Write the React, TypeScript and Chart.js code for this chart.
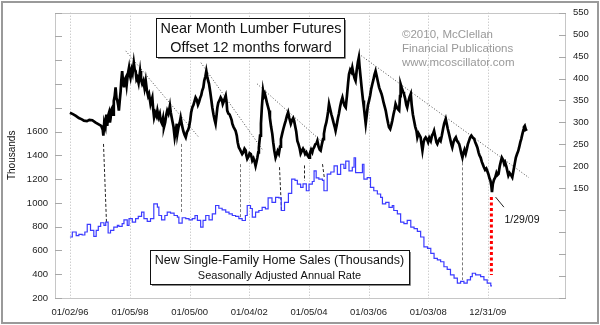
import React, { useEffect, useRef } from 'react';
import { Chart, registerables } from 'chart.js';

Chart.register(...registerables);

const FONT = "'Liberation Sans', Arial, Helvetica, sans-serif";

// X axis (decimal years) tick dates and labels
const xTickDates = [1996.003, 1998.011, 2000.011, 2002.008, 2004.011, 2006.005, 2008.005, 2009.997];
const xTickLabels = ['01/02/96', '01/05/98', '01/05/00', '01/04/02', '01/05/04', '01/03/06', '01/03/08', '12/31/09'];
const xMin = 1995.5;
const xMax = 2012.62;

// Left axis: New home sales (thousands)
const salesMin = 200;
const salesMax = 2600;
const salesStep = 200;
const salesMaxLabel = 1600;

// Right axis: Lumber price
const lumberMin = -100;
const lumberMax = 550;
const lumberStep = 50;
const lumberMinLabel = 150;

// New single-family home sales (monthly step), [decimal year, thousands]
const salesPoints: [number, number][] = [
  [1996.00,713],[1996.08,755],[1996.21,725],[1996.30,735],[1996.41,730],[1996.50,755],[1996.58,819],[1996.69,769],
  [1996.80,719],[1996.88,769],[1996.95,802],[1997.03,833],[1997.14,811],[1997.20,839],[1997.28,747],[1997.36,769],
  [1997.47,797],[1997.59,811],[1997.64,802],[1997.75,825],[1997.81,858],[1997.92,811],[1997.98,867],[1998.09,839],
  [1998.20,867],[1998.29,886],[1998.40,922],[1998.48,867],[1998.59,844],[1998.70,867],[1998.81,992],[1998.93,964],
  [1998.98,894],[1999.07,858],[1999.18,894],[1999.26,922],[1999.37,914],[1999.49,894],[1999.60,880],[1999.65,830],
  [1999.76,875],[1999.88,867],[1999.99,858],[2000.10,867],[2000.19,894],[2000.27,853],[2000.38,797],[2000.46,853],
  [2000.55,894],[2000.66,858],[2000.77,908],[2000.88,978],[2000.99,955],[2001.10,942],[2001.22,922],[2001.33,908],
  [2001.44,894],[2001.55,886],[2001.66,867],[2001.77,852],[2001.88,894],[2001.94,978],[2002.05,953],[2002.11,880],
  [2002.22,922],[2002.33,936],[2002.44,963],[2002.55,950],[2002.64,1042],[2002.77,1005],[2002.89,1047],[2003.00,1042],
  [2003.08,936],[2003.19,1005],[2003.32,1080],[2003.43,1200],[2003.54,1190],[2003.62,1158],[2003.73,1130],[2003.81,1160],
  [2003.92,1102],[2004.01,1158],[2004.12,1180],[2004.18,1269],[2004.25,1210],[2004.34,1200],[2004.46,1190],[2004.51,1102],
  [2004.62,1242],[2004.74,1260],[2004.85,1311],[2004.96,1240],[2005.07,1325],[2005.18,1290],[2005.24,1352],[2005.35,1269],
  [2005.46,1300],[2005.52,1380],[2005.57,1255],[2005.68,1255],[2005.80,1325],[2005.85,1200],[2005.96,1213],[2006.07,1130],
  [2006.18,1102],[2006.30,1075],[2006.41,1047],[2006.47,992],[2006.58,1005],[2006.69,963],[2006.80,978],[2006.85,936],
  [2006.97,908],[2007.08,838],[2007.19,825],[2007.30,853],[2007.42,797],[2007.53,783],[2007.64,760],[2007.75,713],
  [2007.86,630],[2007.98,618],[2008.09,575],[2008.20,533],[2008.31,520],[2008.42,505],[2008.53,463],[2008.64,440],
  [2008.75,394],[2008.87,367],[2008.98,325],[2009.09,340],[2009.20,325],[2009.31,352],[2009.42,380],[2009.48,408],
  [2009.59,394],[2009.76,380],[2009.87,352],[2009.98,325],[2010.10,302],[2010.14,302]
];

// Near month lumber futures, offset 12 months forward, [decimal year, price]
const lumberPoints: [number, number][] = [
  [1996.00,322],[1996.10,319],[1996.20,315],[1996.30,310],[1996.40,307],[1996.47,304],[1996.57,303],[1996.65,306],
  [1996.75,305],[1996.85,300],[1996.95,296],[1997.05,292],[1997.10,283],[1997.12,270],[1997.15,300],[1997.19,290],
  [1997.22,318],[1997.25,292],[1997.28,315],[1997.31,322],[1997.34,300],[1997.36,308],[1997.39,330],[1997.42,334],
  [1997.45,318],[1997.47,349],[1997.50,360],[1997.53,380],[1997.56,355],[1997.59,349],[1997.62,338],[1997.64,327],
  [1997.67,350],[1997.70,372],[1997.72,395],[1997.75,417],[1997.78,392],[1997.81,380],[1997.84,398],[1997.87,402],
  [1997.90,385],[1997.94,410],[1997.98,425],[1998.01,408],[1998.03,402],[1998.07,420],[1998.10,412],[1998.14,436],
  [1998.17,420],[1998.20,417],[1998.23,398],[1998.26,402],[1998.30,390],[1998.35,417],[1998.38,398],[1998.42,388],
  [1998.46,395],[1998.50,378],[1998.54,395],[1998.58,372],[1998.62,360],[1998.65,365],[1998.70,342],[1998.73,350],
  [1998.76,357],[1998.79,330],[1998.82,311],[1998.86,322],[1998.90,315],[1998.93,327],[1998.97,312],[1999.01,320],
  [1999.04,304],[1999.08,298],[1999.12,310],[1999.15,289],[1999.19,300],[1999.23,318],[1999.26,327],[1999.30,320],
  [1999.35,338],[1999.38,322],[1999.43,304],[1999.47,290],[1999.51,266],[1999.55,282],[1999.58,297],[1999.60,274],
  [1999.64,290],[1999.68,300],[1999.71,311],[1999.75,295],[1999.80,280],[1999.84,272],[1999.88,266],[1999.92,278],
  [1999.96,283],[1999.99,289],[2000.03,305],[2000.06,322],[2000.10,334],[2000.14,340],[2000.18,350],[2000.21,357],
  [2000.25,352],[2000.29,340],[2000.32,345],[2000.36,355],[2000.40,362],[2000.43,372],[2000.47,380],[2000.50,395],
  [2000.54,405],[2000.57,417],[2000.60,405],[2000.63,395],[2000.66,388],[2000.70,370],[2000.74,350],[2000.77,334],
  [2000.81,318],[2000.85,305],[2000.88,297],[2000.91,315],[2000.94,334],[2000.97,345],[2001.01,350],[2001.05,357],
  [2001.09,352],[2001.12,342],[2001.16,349],[2001.19,355],[2001.22,361],[2001.25,345],[2001.27,327],[2001.31,320],
  [2001.35,318],[2001.39,311],[2001.42,305],[2001.44,297],[2001.48,290],[2001.52,285],[2001.55,281],[2001.59,270],
  [2001.62,255],[2001.66,243],[2001.70,238],[2001.74,232],[2001.77,228],[2001.81,232],[2001.85,240],[2001.89,236],
  [2001.91,225],[2001.94,217],[2001.98,222],[2002.02,230],[2002.06,228],[2002.09,220],[2002.11,213],[2002.15,218],
  [2002.19,210],[2002.22,201],[2002.25,210],[2002.28,220],[2002.31,232],[2002.33,243],[2002.37,270],[2002.40,297],
  [2002.43,334],[2002.47,372],[2002.50,360],[2002.53,365],[2002.56,357],[2002.59,348],[2002.61,342],[2002.64,335],
  [2002.67,327],[2002.70,310],[2002.74,290],[2002.78,274],[2002.81,255],[2002.85,235],[2002.89,220],[2002.92,226],
  [2002.96,235],[2003.00,229],[2003.04,245],[2003.07,262],[2003.11,274],[2003.15,285],[2003.19,295],[2003.23,304],
  [2003.27,315],[2003.31,323],[2003.35,310],[2003.40,297],[2003.44,305],[2003.48,310],[2003.51,304],[2003.55,290],
  [2003.58,280],[2003.62,258],[2003.66,250],[2003.70,240],[2003.73,229],[2003.77,235],[2003.81,240],[2003.84,236],
  [2003.88,228],[2003.92,232],[2003.96,225],[2004.01,220],[2004.04,230],[2004.08,238],[2004.12,232],[2004.15,240],
  [2004.18,243],[2004.22,250],[2004.26,252],[2004.29,258],[2004.33,245],[2004.37,238],[2004.40,236],[2004.44,250],
  [2004.48,262],[2004.51,274],[2004.55,290],[2004.59,300],[2004.62,311],[2004.65,325],[2004.68,342],[2004.72,330],
  [2004.76,318],[2004.79,311],[2004.83,300],[2004.87,290],[2004.90,281],[2004.94,295],[2004.98,310],[2005.01,319],
  [2005.05,335],[2005.09,348],[2005.13,357],[2005.17,345],[2005.20,338],[2005.24,334],[2005.28,360],[2005.32,390],
  [2005.35,410],[2005.39,420],[2005.43,415],[2005.46,425],[2005.50,410],[2005.54,400],[2005.57,395],[2005.61,420],
  [2005.65,438],[2005.68,448],[2005.70,430],[2005.74,402],[2005.78,375],[2005.82,350],[2005.85,334],[2005.88,315],
  [2005.91,297],[2005.95,320],[2005.98,338],[2006.02,349],[2006.06,362],[2006.09,375],[2006.13,387],[2006.17,398],
  [2006.20,408],[2006.24,417],[2006.28,405],[2006.32,392],[2006.36,380],[2006.40,372],[2006.44,365],[2006.47,357],
  [2006.51,345],[2006.55,335],[2006.58,327],[2006.62,312],[2006.66,298],[2006.69,289],[2006.73,285],[2006.77,295],
  [2006.80,304],[2006.84,318],[2006.88,330],[2006.91,342],[2006.95,335],[2006.99,330],[2007.03,327],[2007.06,360],
  [2007.08,387],[2007.12,378],[2007.16,370],[2007.19,365],[2007.23,355],[2007.27,340],[2007.30,334],[2007.34,348],
  [2007.38,358],[2007.42,365],[2007.45,340],[2007.49,318],[2007.53,304],[2007.57,290],[2007.61,281],[2007.64,266],
  [2007.68,275],[2007.72,270],[2007.75,266],[2007.78,250],[2007.81,236],[2007.85,255],[2007.88,262],[2007.92,266],
  [2007.96,262],[2008.00,255],[2008.04,265],[2008.09,258],[2008.13,270],[2008.17,275],[2008.20,281],[2008.24,268],
  [2008.28,255],[2008.31,251],[2008.35,258],[2008.38,262],[2008.42,258],[2008.46,270],[2008.50,285],[2008.54,298],
  [2008.59,308],[2008.62,298],[2008.66,285],[2008.70,274],[2008.74,262],[2008.78,250],[2008.81,243],[2008.85,255],
  [2008.89,262],[2008.93,266],[2008.97,258],[2009.00,255],[2009.04,251],[2009.08,240],[2009.11,230],[2009.15,220],
  [2009.19,232],[2009.22,238],[2009.26,229],[2009.30,240],[2009.33,250],[2009.37,258],[2009.41,266],[2009.45,270],
  [2009.50,265],[2009.54,263],[2009.58,255],[2009.61,250],[2009.65,243],[2009.69,232],[2009.72,225],[2009.76,220],
  [2009.80,210],[2009.83,205],[2009.87,198],[2009.91,192],[2009.95,195],[2009.98,190],[2010.02,182],[2010.06,172],
  [2010.09,167],[2010.12,155],[2010.14,141],[2010.17,160],[2010.21,170],[2010.25,175],[2010.29,185],[2010.32,180],
  [2010.36,183],[2010.40,200],[2010.44,212],[2010.47,220],[2010.51,215],[2010.55,205],[2010.58,209],[2010.62,200],
  [2010.66,188],[2010.69,179],[2010.73,185],[2010.78,180],[2010.82,175],[2010.86,190],[2010.90,205],[2010.94,220],
  [2010.98,228],[2011.02,235],[2011.05,243],[2011.09,255],[2011.12,262],[2011.16,274],[2011.19,282],[2011.21,289],
  [2011.24,292],[2011.27,285],[2011.30,281]
];

// Dotted down-sloping trend lines on lumber: [year1, price1, year2, price2]
const trendLines: [number, number, number, number][] = [
  [1997.87, 463, 2000.32, 266],
  [2000.39, 436, 2002.47, 236],
  [2002.27, 388, 2004.41, 258],
  [2005.68, 456, 2011.38, 174],
];

// Dashed connectors lumber low -> sales low: [yearL, lumber, yearS, sales, color]
const connectors: [number, number, number, number, string][] = [
  [1997.12, 251, 1997.20, 830, '#222222'],
  [1999.71, 251, 1999.71, 908, '#7a7a7a'],
  [2001.70, 205, 2001.70, 880, '#7a7a7a'],
  [2003.00, 198, 2003.08, 936, '#222222'],
  [2003.84, 202, 2003.84, 1186, '#222222'],
  [2004.46, 205, 2004.51, 1200, '#222222'],
  [2009.13, 209, 2009.13, 352, '#7a7a7a'],
];
const redConnector: [number, number, number, number] = [2010.12, 130, 2010.12, 394];
const lowLeader: [number, number, number, number] = [2010.26, 130, 2010.54, 107];
const lowLabel = '1/29/09';
const lowLabelPos: [number, number] = [2010.56, 77];

const titleLines = ['Near Month Lumber Futures', 'Offset 12 months forward'];
const salesLines = ['New Single-Family Home Sales (Thousands)', 'Seasonally Adjusted Annual Rate'];
const creditLines = ['\u00a92010, McClellan', 'Financial Publications', 'www.mcoscillator.com'];

const decoPlugin = {
  id: 'deco',
  beforeDatasetsDraw(chart: any) {
    const { ctx, chartArea: a, scales } = chart;
    const x = scales.x, yL = scales.yL, yR = scales.yR;
    ctx.save();
    // vertical dotted gridlines
    ctx.strokeStyle = '#b8b8b8';
    ctx.lineWidth = 1;
    ctx.setLineDash([1, 2]);
    xTickDates.forEach((d) => {
      const px = Math.round(x.getPixelForValue(d)) + 0.5;
      ctx.beginPath();
      ctx.moveTo(px, a.top);
      ctx.lineTo(px, a.bottom);
      ctx.stroke();
    });
    ctx.setLineDash([]);
    // plot frame
    ctx.strokeStyle = '#c6c6c6';
    ctx.strokeRect(Math.round(a.left) + 0.5, Math.round(a.top) + 0.5, Math.round(a.right - a.left) - 1, Math.round(a.bottom - a.top));
    // inward tick marks
    ctx.strokeStyle = '#a8a8a8';
    yL.ticks.forEach((t: any) => {
      const py = Math.round(yL.getPixelForValue(t.value)) + 0.5;
      ctx.beginPath();
      ctx.moveTo(a.left, py);
      ctx.lineTo(a.left + 7, py);
      ctx.stroke();
    });
    yR.ticks.forEach((t: any) => {
      const py = Math.round(yR.getPixelForValue(t.value)) + 0.5;
      ctx.beginPath();
      ctx.moveTo(a.right - 7, py);
      ctx.lineTo(a.right, py);
      ctx.stroke();
    });
    // trend lines
    ctx.strokeStyle = '#4a4a4a';
    ctx.setLineDash([1, 2]);
    trendLines.forEach(([x1, v1, x2, v2]) => {
      ctx.beginPath();
      ctx.moveTo(x.getPixelForValue(x1), yR.getPixelForValue(v1));
      ctx.lineTo(x.getPixelForValue(x2), yR.getPixelForValue(v2));
      ctx.stroke();
    });
    // connectors
    ctx.setLineDash([3, 2]);
    connectors.forEach(([x1, v1, x2, v2, c]) => {
      ctx.strokeStyle = c;
      ctx.beginPath();
      ctx.moveTo(Math.round(x.getPixelForValue(x1)) + 0.5, yR.getPixelForValue(v1));
      ctx.lineTo(Math.round(x.getPixelForValue(x2)) + 0.5, yL.getPixelForValue(v2));
      ctx.stroke();
    });
    // red dotted
    ctx.strokeStyle = '#ff0000';
    ctx.lineWidth = 3;
    ctx.setLineDash([3, 2.5]);
    ctx.beginPath();
    ctx.moveTo(x.getPixelForValue(redConnector[0]), yR.getPixelForValue(redConnector[1]));
    ctx.lineTo(x.getPixelForValue(redConnector[2]), yL.getPixelForValue(redConnector[3]));
    ctx.stroke();
    ctx.restore();
  },
  afterDatasetsDraw(chart: any) {
    const { ctx, scales } = chart;
    const x = scales.x, yR = scales.yR;
    ctx.save();
    // leader line + label
    ctx.strokeStyle = '#222';
    ctx.lineWidth = 1;
    ctx.beginPath();
    ctx.moveTo(x.getPixelForValue(lowLeader[0]), yR.getPixelForValue(lowLeader[1]));
    ctx.lineTo(x.getPixelForValue(lowLeader[2]), yR.getPixelForValue(lowLeader[3]));
    ctx.stroke();
    ctx.fillStyle = '#111';
    ctx.font = `10.5px ${FONT}`;
    ctx.textAlign = 'left';
    ctx.textBaseline = 'middle';
    ctx.fillText(lowLabel, x.getPixelForValue(lowLabelPos[0]), yR.getPixelForValue(lowLabelPos[1]));

    const box = (l: number, t: number, r: number, b: number) => {
      ctx.fillStyle = '#ffffff';
      ctx.fillRect(l, t, r - l, b - t);
      ctx.strokeStyle = '#8a8a8a';
      ctx.beginPath();
      ctx.moveTo(r + 1.5, t + 2);
      ctx.lineTo(r + 1.5, b + 1.5);
      ctx.lineTo(l + 2, b + 1.5);
      ctx.stroke();
      ctx.strokeStyle = '#111';
      ctx.strokeRect(l + 0.5, t + 0.5, r - l, b - t);
    };
    // title box
    box(156, 18, 344, 57);
    ctx.fillStyle = '#111';
    ctx.textAlign = 'center';
    ctx.textBaseline = 'alphabetic';
    ctx.font = `14.4px ${FONT}`;
    ctx.fillText(titleLines[0], 251, 33);
    ctx.fillText(titleLines[1], 251, 52);
    // sales box
    box(150, 250, 409, 284);
    ctx.fillStyle = '#111';
    ctx.font = `12.5px ${FONT}`;
    ctx.fillText(salesLines[0], 279.5, 264);
    ctx.font = `11px ${FONT}`;
    ctx.fillText(salesLines[1], 279.5, 278.5);
    // credit
    ctx.fillStyle = '#999999';
    ctx.textAlign = 'left';
    ctx.font = `11.5px ${FONT}`;
    ctx.fillText(creditLines[0], 402, 38);
    ctx.fillText(creditLines[1], 402, 52);
    ctx.fillText(creditLines[2], 402, 65.5);
    ctx.restore();
  },
  afterDraw(chart: any) {
    const { ctx, width, height } = chart;
    ctx.save();
    ctx.strokeStyle = '#9a9a9a';
    ctx.lineWidth = 2;
    ctx.strokeRect(2, 2, width - 4, height - 4);
    ctx.restore();
  },
};

export default function App() {
  const ref = useRef<HTMLCanvasElement | null>(null);
  useEffect(() => {
    document.body.style.margin = '0';
    const canvas = ref.current;
    if (!canvas) return;
    const tickFont = { family: FONT, size: 9.5 };
    const chart = new Chart(canvas, {
      type: 'line',
      data: {
        datasets: [
          {
            label: 'Lumber',
            data: lumberPoints.map(([t, v]) => ({ x: t, y: v })),
            yAxisID: 'yR',
            borderColor: '#000000',
            borderWidth: 2.7,
            pointRadius: 0,
            tension: 0,
            borderJoinStyle: 'miter',
          },
          {
            label: 'Sales',
            data: salesPoints.map(([t, v]) => ({ x: t, y: v })),
            yAxisID: 'yL',
            borderColor: '#3b3bff',
            borderWidth: 1.2,
            pointRadius: 0,
            stepped: 'before',
          },
        ],
      } as any,
      options: {
        animation: false,
        responsive: false,
        maintainAspectRatio: false,
        events: [],
        layout: { padding: { top: 11, left: 0, right: 0, bottom: 0 } },
        plugins: { legend: { display: false }, tooltip: { enabled: false }, title: { display: false } },
        scales: {
          x: {
            type: 'linear',
            min: xMin,
            max: xMax,
            afterBuildTicks: (s: any) => {
              s.ticks = xTickDates.map((v) => ({ value: v }));
            },
            afterFit: (s: any) => {
              s.height = 27;
            },
            ticks: {
              autoSkip: false,
              maxRotation: 0,
              padding: 9,
              color: '#222',
              font: tickFont,
              callback: (_v: any, i: number) => xTickLabels[i],
            },
            grid: { display: false, drawTicks: false },
            border: { display: false },
          },
          yL: {
            type: 'linear',
            position: 'left',
            min: salesMin,
            max: salesMax,
            afterFit: (s: any) => {
              s.width = 55;
            },
            ticks: {
              stepSize: salesStep,
              padding: 7,
              color: '#222',
              font: tickFont,
              callback: (v: any) => (Number(v) <= salesMaxLabel ? String(v) : ''),
            },
            title: {
              display: true,
              text: 'Thousands',
              color: '#111',
              font: { family: FONT, size: 10 },
              padding: { top: 6, bottom: 0 },
            },
            grid: { display: false, drawTicks: false },
            border: { display: false },
          },
          yR: {
            type: 'linear',
            position: 'right',
            min: lumberMin,
            max: lumberMax,
            afterFit: (s: any) => {
              s.width = 34;
            },
            ticks: {
              stepSize: lumberStep,
              padding: 7,
              color: '#222',
              font: tickFont,
              callback: (v: any) => (Number(v) >= lumberMinLabel ? String(v) : ''),
            },
            grid: { display: false, drawTicks: false },
            border: { display: false },
          },
        },
      } as any,
      plugins: [decoPlugin],
    });
    return () => chart.destroy();
  }, []);
  return (
    <div style={{ width: 600, height: 325, background: '#fff' }}>
      <canvas ref={ref} width={600} height={325} style={{ display: 'block', width: 600, height: 325 }} />
    </div>
  );
}
